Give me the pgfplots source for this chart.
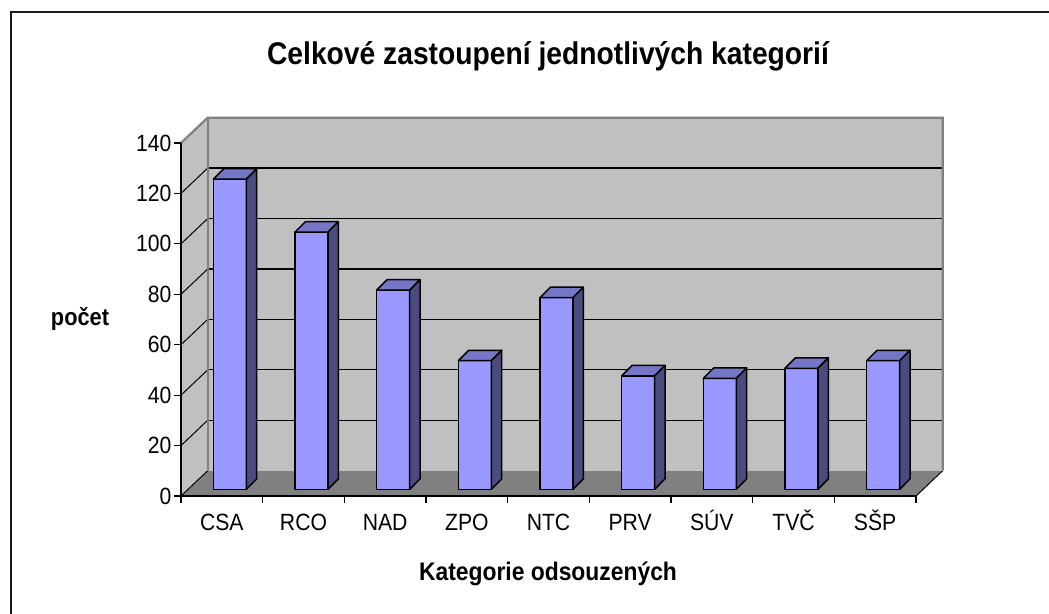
\documentclass[border=0pt]{standalone}
\usepackage{pgfplots}
\usepackage{pgfplotstable}
\usepackage{fontspec}
\setmainfont[FakeStretch=0.9]{Liberation Sans}
\pgfplotsset{compat=1.18}

\definecolor{wall}{HTML}{C0C0C0}
\definecolor{floorc}{HTML}{808080}
\definecolor{wallborder}{HTML}{808080}
\definecolor{barfront}{HTML}{9999FF}
\definecolor{bartop}{HTML}{7676C6}
\definecolor{barside}{HTML}{4B4B80}

\pgfplotstableread{
idx v
0 123
1 102
2 79
3 51
4 76
5 45
6 44
7 48
8 51
}\bardata

\begin{document}
\begin{tikzpicture}
\useasboundingbox (0,0) rectangle (1049bp,614bp);
% outer frame (cropped at right and bottom)
\draw[line width=2.6bp, black!90] (11bp,-10bp) -- (11bp,602bp) -- (1060bp,602bp);

\begin{axis}[
  at={(181bp,118bp)}, anchor=south west,
  scale only axis, width=735bp, height=353bp,
  xmin=-0.5, xmax=8.5, ymin=0, ymax=140,
  clip=false, axis on top,
  axis lines*=left,
  axis line style={black, line width=1.2bp},
  xtick={0,...,8},
  xticklabels={CSA,RCO,NAD,ZPO,NTC,PRV,SÚV,TVČ,SŠP},
  minor xtick={-0.5,0.5,...,8.5},
  ytick={0,20,...,140},
  tick align=outside,
  major tick length=7bp, minor tick length=7bp,
  major x tick style={draw=none},
  tick style={black, line width=1.2bp},
  minor tick style={black, line width=1.2bp},
  /pgf/number format/assume math mode=true,
  tick label style={font=\fontsize{23.6}{28}\selectfont},
  xticklabel style={text height=0.75em, text depth=0.25em, yshift=-17bp},
  yticklabel style={xshift=1bp},
]
% floor
\fill[floorc] (axis cs:-0.5,0) -- (axis cs:8.5,0) -- (axis cs:8.827,10.04) -- (axis cs:-0.173,10.04) -- cycle;
\draw[black, line width=1bp] (axis cs:8.5,0) -- (axis cs:8.827,10.04);
% left wall
\fill[wall] (axis cs:-0.5,0) -- (axis cs:-0.173,10.04) -- (axis cs:-0.173,150.04) -- (axis cs:-0.5,140) -- cycle;
% back wall
\fill[wall] (axis cs:-0.173,10.04) rectangle (axis cs:8.827,150.04);
% back wall gridlines
\draw[black, line width=1.3bp] (axis cs:-0.173,30.04) -- (axis cs:8.827,30.04);
\draw[black, line width=1.3bp] (axis cs:-0.173,50.04) -- (axis cs:8.827,50.04);
\draw[black, line width=1.3bp] (axis cs:-0.173,70.04) -- (axis cs:8.827,70.04);
\draw[black, line width=1.3bp] (axis cs:-0.173,90.04) -- (axis cs:8.827,90.04);
\draw[black, line width=1.3bp] (axis cs:-0.173,110.04) -- (axis cs:8.827,110.04);
\draw[black, line width=1.3bp] (axis cs:-0.173,130.04) -- (axis cs:8.827,130.04);
% left wall gridlines
\draw[black, line width=1bp] (axis cs:-0.5,0) -- (axis cs:-0.173,10.04);
\draw[black, line width=1bp] (axis cs:-0.5,20) -- (axis cs:-0.173,30.04);
\draw[black, line width=1bp] (axis cs:-0.5,40) -- (axis cs:-0.173,50.04);
\draw[black, line width=1bp] (axis cs:-0.5,60) -- (axis cs:-0.173,70.04);
\draw[black, line width=1bp] (axis cs:-0.5,80) -- (axis cs:-0.173,90.04);
\draw[black, line width=1bp] (axis cs:-0.5,100) -- (axis cs:-0.173,110.04);
\draw[black, line width=1bp] (axis cs:-0.5,120) -- (axis cs:-0.173,130.04);
% wall borders
\draw[wallborder, line width=2.2bp] (axis cs:-0.5,140) -- (axis cs:-0.173,150.04) -- (axis cs:8.827,150.04) -- (axis cs:8.827,10.04);
\draw[wallborder, line width=2.2bp] (axis cs:-0.173,10.04) -- (axis cs:-0.173,150.04);

% 3D bars built from the table values
\pgfplotsinvokeforeach{0,...,8}{%
  \pgfplotstablegetelem{#1}{v}\of\bardata
  \pgfmathsetmacro\vb{\pgfplotsretval+2.66}%
  \pgfmathsetmacro\vt{\vb+4.13}%
  \pgfmathsetmacro\xa{#1-0.104}%
  \pgfmathsetmacro\xb{#1+0.300}%
  \pgfmathsetmacro\xc{#1+0.427}%
  \pgfmathsetmacro\xd{#1+0.023}%
  \edef\tmp{%
    \noexpand\addplot[draw=black, line width=1.5bp, line join=round, fill=barfront] coordinates {(\xa,2.66) (\xb,2.66) (\xb,\vb) (\xa,\vb)} -- cycle;
    \noexpand\addplot[draw=black, line width=1.5bp, line join=round, fill=bartop] coordinates {(\xa,\vb) (\xb,\vb) (\xc,\vt) (\xd,\vt)} -- cycle;
    \noexpand\addplot[draw=black, line width=1.5bp, line join=round, fill=barside] coordinates {(\xb,2.66) (\xc,6.79) (\xc,\vt) (\xb,\vb)} -- cycle;
  }\tmp
}
\end{axis}

\node[font=\bfseries\fontsize{31.5}{36}\selectfont, anchor=base] at (548bp,549bp) {Celkové zastoupení jednotlivých kategorií};
\node[font=\bfseries\fontsize{25.5}{30}\selectfont, anchor=base] at (548bp,34bp) {Kategorie odsouzených};
\node[font=\bfseries\fontsize{24.3}{28}\selectfont] at (80bp,295bp) {počet};
\end{tikzpicture}
\end{document}
